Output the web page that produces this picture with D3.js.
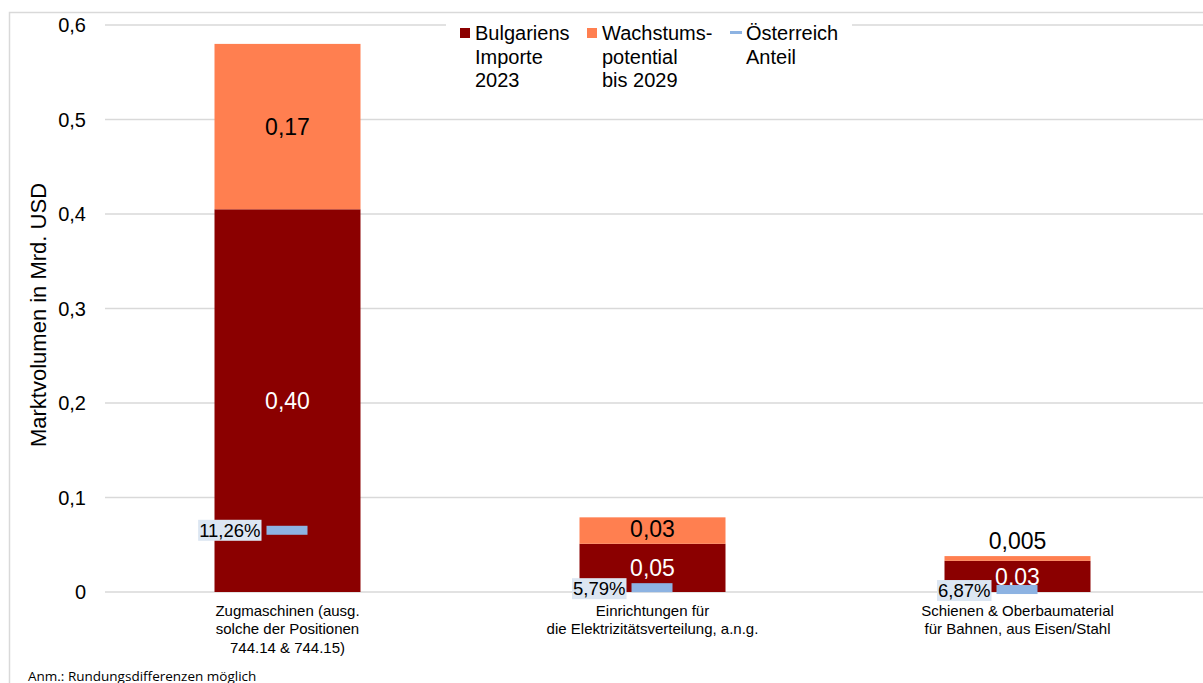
<!DOCTYPE html>
<html>
<head>
<meta charset="utf-8">
<script src="https://cdn.jsdelivr.net/npm/d3@7"></script>
<style>
  body { margin: 0; background: #fff; }
  svg { font-family: Arial, "Liberation Sans", sans-serif; }
</style>
</head>
<body>
<svg id="chart" width="1203" height="683"></svg>
<script>
// data
const categories = [
  ["Zugmaschinen (ausg.", "solche der Positionen", "744.14 & 744.15)"],
  ["Einrichtungen für", "die Elektrizitätsverteilung, a.n.g."],
  ["Schienen & Oberbaumaterial", "für Bahnen, aus Eisen/Stahl"]
];
const imports2023 = [0.405, 0.051, 0.033];
const growth2029 = [0.175, 0.028, 0.005];
const importLabels = ["0,40", "0,05", "0,03"];
const growthLabels = ["0,17", "0,03", "0,005"];
const austriaShare = [0.1126, 0.0579, 0.0687];
const shareLabels = ["11,26%", "5,79%", "6,87%"];
const yTicks = [0, 0.1, 0.2, 0.3, 0.4, 0.5, 0.6];
const legendItems = [
  { type: "rect", color: "#8b0000", lines: ["Bulgariens", "Importe", "2023"] },
  { type: "rect", color: "#ff7f50", lines: ["Wachstums-", "potential", "bis 2029"] },
  { type: "line", color: "#8db3e2", lines: ["Österreich", "Anteil"] }
];

const svg = d3.select("#chart");

// outer frame
svg.append("rect").attr("x", 9.5).attr("y", 12.5).attr("width", 1210).attr("height", 700)
  .attr("fill", "none").attr("stroke", "#d9d9d9").attr("stroke-width", 1.5);

const x = d3.scaleBand().domain(d3.range(categories.length)).range([105, 1200]).paddingInner(0.6).paddingOuter(0.3);
const y = d3.scaleLinear().domain([0, 0.6]).range([592, 25]);
const bw = x.bandwidth();
const cx = i => x(i) + bw / 2;

// grid
svg.selectAll(".grid").data(yTicks).enter().append("line")
  .attr("x1", 105).attr("x2", 1203)
  .attr("y1", d => y(d)).attr("y2", d => y(d))
  .attr("stroke", "#d9d9d9").attr("stroke-width", 1.5);

// y labels
svg.selectAll(".ytick").data(yTicks).enter().append("text")
  .attr("x", 86).attr("y", d => y(d) + 7)
  .attr("text-anchor", "end").attr("font-size", 20).attr("fill", "#000")
  .text(d => d === 0 ? "0" : d3.format(".1f")(d).replace(".", ","));

svg.append("text")
  .attr("transform", "translate(46,315) rotate(-90)")
  .attr("text-anchor", "middle").attr("font-size", 22)
  .text("Marktvolumen in Mrd. USD");

// bars
const g = svg.selectAll(".cat").data(categories).enter().append("g");

g.append("rect")
  .attr("x", (d, i) => x(i)).attr("width", bw)
  .attr("y", (d, i) => y(imports2023[i]))
  .attr("height", (d, i) => y(0) - y(imports2023[i]))
  .attr("fill", "#8b0000");

g.append("rect")
  .attr("x", (d, i) => x(i)).attr("width", bw)
  .attr("y", (d, i) => y(imports2023[i] + growth2029[i]))
  .attr("height", (d, i) => y(imports2023[i]) - y(imports2023[i] + growth2029[i]))
  .attr("fill", "#ff7f50");

// value labels
const importOff = [null, 32, 24];
g.append("text")
  .attr("x", (d, i) => cx(i))
  .attr("y", (d, i) => i === 0 ? (y(imports2023[i]) + y(0)) / 2 + 8 : y(imports2023[i]) + importOff[i])
  .attr("text-anchor", "middle").attr("font-size", 23).attr("fill", "#fff")
  .text((d, i) => importLabels[i]);

g.append("text")
  .attr("x", (d, i) => cx(i))
  .attr("y", (d, i) => {
    const top = y(imports2023[i] + growth2029[i]);
    if (i === 0) return (top + y(imports2023[i])) / 2 + 8;
    if (i === 1) return top + 20;
    return top - 7;
  })
  .attr("text-anchor", "middle").attr("font-size", 23).attr("fill", "#000")
  .text((d, i) => growthLabels[i]);

// austria share markers
const shareY = i => y((imports2023[i] + growth2029[i]) * austriaShare[i]);
g.append("rect")
  .attr("x", (d, i) => cx(i) - 21).attr("width", 41)
  .attr("y", (d, i) => shareY(i) - 4.5).attr("height", 9)
  .attr("fill", "#8db3e2");

g.each(function (d, i) {
  const s = d3.select(this);
  const yy = shareY(i) + (i === 0 ? 0 : 1);
  const bg = s.append("rect").attr("fill", "#dce6f2");
  const t = s.append("text")
    .attr("x", cx(i) - 27).attr("y", yy + 6.5)
    .attr("text-anchor", "end").attr("font-size", 18.5).attr("fill", "#000")
    .text(shareLabels[i]);
  const bb = t.node().getBBox();
  bg.attr("x", bb.x - 1).attr("width", bb.width + 2)
    .attr("y", yy - 10.5).attr("height", 21);
});

// category labels
g.append("text")
  .attr("text-anchor", "middle").attr("font-size", 15).attr("fill", "#000")
  .selectAll("tspan").data((d, i) => d.map(l => ({ l, i }))).enter().append("tspan")
  .attr("x", d => cx(d.i))
  .attr("y", (d, j) => 616 + j * 18.3)
  .text(d => d.l);

// legend
svg.append("rect").attr("x", 446).attr("y", 18).attr("width", 406).attr("height", 76).attr("fill", "#fff");
const lx = [460, 587, 730];
const lg = svg.selectAll(".leg").data(legendItems).enter().append("g")
  .attr("transform", (d, i) => `translate(${lx[i]},0)`);
lg.each(function (d) {
  const s = d3.select(this);
  if (d.type === "rect") {
    s.append("rect").attr("x", 0).attr("y", 28).attr("width", 10).attr("height", 10).attr("fill", d.color);
  } else {
    s.append("rect").attr("x", 0).attr("y", 31).attr("width", 12).attr("height", 3).attr("fill", d.color);
  }
  s.append("text").attr("font-size", 20).attr("fill", "#000")
    .selectAll("tspan").data(d.lines).enter().append("tspan")
    .attr("x", d.type === "rect" ? 15 : 16)
    .attr("y", (l, j) => 40 + j * 23.7)
    .text(l => l);
});

// footnote
svg.append("text").attr("x", 28).attr("y", 681).attr("font-size", 13.5)
  .attr("font-family", "'Open Sans', sans-serif").attr("fill", "#000")
  .text("Anm.: Rundungsdifferenzen möglich");
</script>
</body>
</html>
